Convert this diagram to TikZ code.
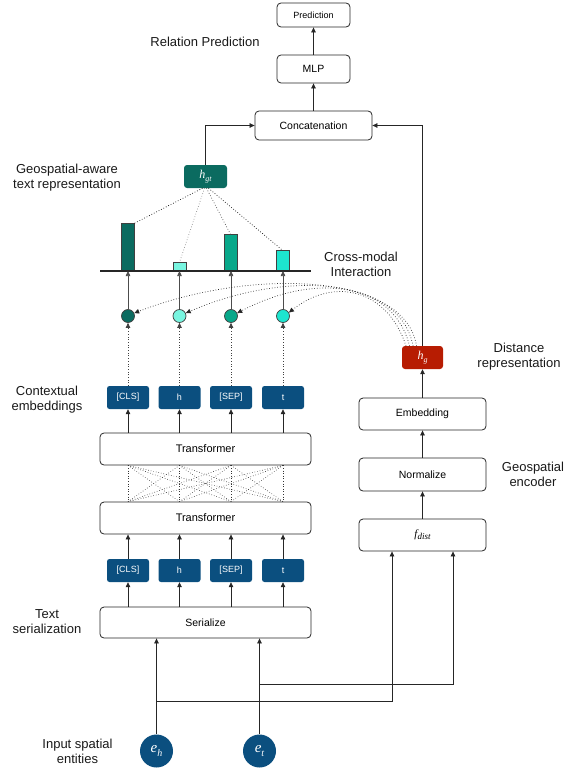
\documentclass[tikz,border=0pt]{standalone}
\usepackage{fontspec}
\setmainfont{Liberation Sans}
\newfontfamily\tms{Liberation Serif}
\usetikzlibrary{arrows.meta,calc}
\definecolor{navy}{HTML}{0B4F7F}
\definecolor{tealdk}{HTML}{0B6B60}
\definecolor{aqualt}{HTML}{78F5E0}
\definecolor{tealmd}{HTML}{08A88A}
\definecolor{turq}{HTML}{1DE5CF}
\definecolor{hgred}{HTML}{B71C02}
\begin{document}
\begin{tikzpicture}[x=1pt,y=-1pt,
  box/.style={draw=black!85, line width=0.8pt, rounded corners=4pt, fill=white, inner sep=0pt, font=\fontsize{10.5}{12}\selectfont},
  tok/.style={fill=navy, rounded corners=2.5pt, text=white, minimum width=42pt, minimum height=23pt, inner sep=0pt, font=\fontsize{9}{10}\selectfont},
  vbox/.style={rounded corners=3pt, text=white, minimum width=42pt, minimum height=23pt, inner sep=0pt},
  arr/.style={-{Triangle[length=5pt,width=4.5pt]}, line width=0.7pt, draw=black!85},
  darr/.style={arr, dotted},
  lbl/.style={align=center, font=\fontsize{13}{15}\selectfont, text=black!90},
  bar/.style={draw=black!75, line width=0.7pt, minimum width=13pt, inner sep=0pt, anchor=south},
  dot/.style={circle, draw=black!75, line width=0.7pt, minimum size=13pt, inner sep=0pt},
  ent/.style={circle, fill=navy, minimum size=33pt, inner sep=0pt, text=white}
]
\useasboundingbox (0,0) rectangle (565,773);

% columns
\coordinate (col1) at (128,0);
\coordinate (col2) at (179.5,0);
\coordinate (col3) at (231,0);
\coordinate (col4) at (283,0);

% top part
\node[box, minimum width=73pt, minimum height=24pt, font=\fontsize{9}{10}\selectfont] (pred) at (313.5,15) {Prediction};
\node[box, minimum width=73pt, minimum height=28pt] (mlp) at (313.5,69) {MLP};
\node[box, minimum width=117pt, minimum height=29pt] (concat) at (313.5,125.5) {Concatenation};
\node[vbox, fill=tealdk, minimum width=43pt] (hgt) at (205.5,176.5) {\tms\itshape\fontsize{12}{12}\selectfont h\raisebox{-0.45ex}{\fontsize{8}{8}\selectfont gt}};

% bars
\coordinate (bl) at (100,271);
\coordinate (br) at (311,271);
\node[bar, fill=tealdk, minimum height=47pt] (b1) at (127.5,271) {};
\node[bar, fill=aqualt, minimum height=8pt] (b2) at (179.5,271) {};
\node[bar, fill=tealmd, minimum height=36pt] (b3) at (230.5,271) {};
\node[bar, fill=turq, minimum height=20pt] (b4) at (282.5,271) {};
\draw[line width=1.6pt, black!85] (bl) -- (br);

\draw[dotted, line width=0.7pt] ([xshift=-3pt]hgt.south) -- (b1.north east);
\draw[dotted, line width=0.7pt, black!45] ([xshift=-1pt]hgt.south) -- (b2.north);
\draw[dotted, line width=0.7pt, black!70] ([xshift=1pt]hgt.south) -- (b3.north);
\draw[dotted, line width=0.7pt] ([xshift=3pt]hgt.south) -- (b4.north);

% circles
\node[dot, fill=tealdk] (c1) at (128,316) {};
\node[dot, fill=aqualt] (c2) at (179.5,316) {};
\node[dot, fill=tealmd] (c3) at (231,316) {};
\node[dot, fill=turq] (c4) at (283,316) {};
\foreach \i in {1,2,3,4}{
  \draw[arr, draw=black!70] (c\i.north) -- (c\i.north |- bl);
}

% distance representation
\node[vbox, fill=hgred, minimum width=41pt] (hg) at (422.5,357.5) {\tms\itshape\fontsize{12}{12}\selectfont h\raisebox{-0.45ex}{\fontsize{8}{8}\selectfont g}};
\coordinate (s1) at (406,346);
\coordinate (s2) at (409.5,346);
\coordinate (s3) at (413,346);
\coordinate (s4) at (416.5,346);
\draw[darr] (s4) .. controls (405,272) and (250,268) .. (c1.25);
\draw[darr] (s3) .. controls (400,276) and (285,270) .. (c2.25);
\draw[darr] (s2) .. controls (394,282) and (315,272) .. (c3.25);
\draw[darr] (s1) .. controls (388,290) and (335,276) .. (c4.30);

% contextual embeddings
\node[tok] (ct1) at (128,397.5) {[CLS]};
\node[tok] (ct2) at (179.5,397.5) {h};
\node[tok] (ct3) at (231,397.5) {[SEP]};
\node[tok] (ct4) at (283,397.5) {t};
\foreach \i in {1,2,3,4}{
  \draw[darr, draw=black!75] (ct\i.north) -- (c\i.south);
}

% transformers
\node[box, minimum width=211pt, minimum height=32pt, font=\fontsize{11}{12}\selectfont] (trTop) at (205.5,449) {Transformer};
\node[box, minimum width=211pt, minimum height=32pt, font=\fontsize{11}{12}\selectfont] (trBot) at (205.5,518) {Transformer};
\foreach \i in {1,2,3,4}{
  \draw[arr] (trTop.north -| col\i) -- (ct\i.south);
  \foreach \j in {1,2,3,4}{
    \draw[dotted, line width=0.6pt, black!80] (trTop.south -| col\i) -- (trBot.north -| col\j);
  }
}

% bottom tokens
\node[tok] (tb1) at (128,570.5) {[CLS]};
\node[tok] (tb2) at (179.5,570.5) {h};
\node[tok] (tb3) at (231,570.5) {[SEP]};
\node[tok] (tb4) at (283,570.5) {t};
\node[box, minimum width=211pt, minimum height=31pt] (ser) at (205.5,622.5) {Serialize};
\foreach \i in {1,2,3,4}{
  \draw[arr] (tb\i.north) -- (trBot.south -| col\i);
  \draw[arr] (ser.north -| col\i) -- (tb\i.south);
}

% geospatial encoder
\node[box, minimum width=127pt, minimum height=32pt] (emb) at (422.5,414) {Embedding};
\node[box, minimum width=127pt, minimum height=33pt] (norm) at (422.5,474.5) {Normalize};
\node[box, minimum width=127pt, minimum height=32pt] (fdist) at (422.5,535) {\tms\itshape\fontsize{11}{12}\selectfont f\raisebox{-0.4ex}{\fontsize{9}{9}\selectfont dist}};
\draw[arr] (fdist.north) -- (norm.south);
\draw[arr] (norm.north) -- (emb.south);
\draw[arr] (emb.north) -- (hg.south);

% top connections
\draw[arr] (hgt.north) |- (concat.west);
\draw[arr] (hg.north) |- (concat.east);
\draw[arr] (concat.north) -- (mlp.south);
\draw[arr] (mlp.north) -- (pred.south);

% entities
\node[ent] (eh) at (156.5,751) {\tms\itshape\fontsize{15}{15}\selectfont e\raisebox{-0.45ex}{\fontsize{10}{10}\selectfont h}};
\node[ent] (et) at (259.5,751) {\tms\itshape\fontsize{15}{15}\selectfont e\raisebox{-0.45ex}{\fontsize{10}{10}\selectfont t}};
\coordinate (fa) at ([xshift=-30.5pt]fdist.south);
\coordinate (fb) at ([xshift=30.5pt]fdist.south);
\coordinate (jh) at (156.5,701);
\coordinate (jt) at (259.5,684);
\draw[arr] (eh.north) -- (eh.north |- ser.south);
\draw[arr] (et.north) -- (et.north |- ser.south);
\draw[arr] (jh) -| (fa);
\draw[arr] (jt) -| (fb);

% labels
\node[lbl] (lrel) at (205,42) {Relation Prediction};
\node[lbl] (lgeo) at (67,178) {Geospatial-aware\\text representation};
\node[lbl] (lcross) at (361,264) {Cross-modal\\Interaction};
\node[lbl] (ldist) at (519,357) {Distance\\representation};
\node[lbl] (lctx) at (47,400) {Contextual\\embeddings};
\node[lbl] (lenc) at (533,474) {Geospatial\\encoder};
\node[lbl] (lser) at (47,622) {Text\\serialization};
\node[lbl] (lin) at (77.5,751) {Input spatial\\entities};
\end{tikzpicture}
\end{document}
